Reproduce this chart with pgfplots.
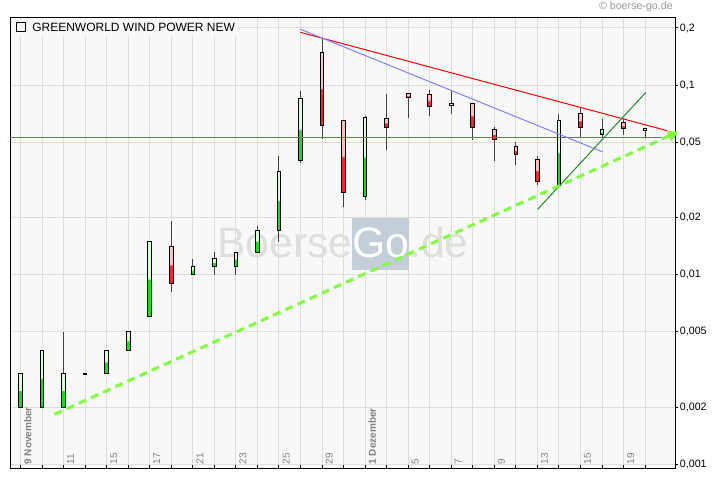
\documentclass[border=0pt]{standalone}
\usepackage{fontspec}
\setmainfont{Liberation Sans}
\usepackage{pgfplots}
\pgfplotsset{compat=1.18}
\usetikzlibrary{arrows.meta}
\definecolor{bgc}{RGB}{248,248,248}
\definecolor{gridc}{RGB}{221,221,221}
\definecolor{wick}{RGB}{64,64,64}
\definecolor{hline}{RGB}{100,100,230}
\definecolor{tblue}{RGB}{128,128,255}
\definecolor{tgreen}{RGB}{34,140,34}
\definecolor{dgreen}{RGB}{128,255,64}
\definecolor{wm}{RGB}{222,222,222}
\definecolor{gobox}{RGB}{196,206,216}
\pgfdeclareverticalshading{upshade}{100bp}{rgb(0bp)=(0.08,0.88,0.08); rgb(49.9bp)=(0.08,0.88,0.08); rgb(50.1bp)=(0.84,1,0.84); rgb(100bp)=(0.84,1,0.84)}
\pgfdeclareverticalshading{dnshade}{100bp}{rgb(0bp)=(0.94,0.16,0.16); rgb(49.9bp)=(0.94,0.16,0.16); rgb(50.1bp)=(1,0.75,0.75); rgb(100bp)=(1,0.75,0.75)}
\pgfplotsset{
  candleup/.style={draw=black, line width=0.75pt, shade, shading=upshade},
  candledn/.style={draw=black, line width=0.75pt, shade, shading=dnshade},
}
% position, low, body low, body high, high, up/dn
\newcommand\candle[6]{%
  \pgfmathsetmacro\xa{#1-0.085}\pgfmathsetmacro\xb{#1+0.085}%
  \addplot[draw=wick, line width=0.75pt] coordinates {(#1,#2) (#1,#3)};
  \addplot[draw=wick, line width=0.75pt] coordinates {(#1,#4) (#1,#5)};
  \addplot[candle#6] coordinates {(\xa,#3) (\xb,#3) (\xb,#4) (\xa,#4)} -- cycle;
}
\begin{document}
\begin{tikzpicture}
\path[use as bounding box] (-7.5pt,-9.75pt) rectangle (532.5pt,351pt);
\begin{axis}[
  at={(0,0)}, anchor=south west,
  scale only axis, width=498.75pt, height=337.5pt,
  xmin=-0.49, xmax=30.39,
  ymode=log, ymin=0.000956, ymax=0.2258,
  axis background/.style={fill=bgc},
  axis line style={line width=0.75pt},
  grid=major, grid style={draw=gridc, line width=0.75pt},
  xtick={0,...,29},
  xticklabels={\textbf{9 November},,11,,15,,17,,21,,23,,25,,29,,\textbf{1 Dezember},,5,,7,,9,,13,,15,,19,},
  xtick pos=lower, xtick align=inside,
  ytick pos=upper, ytick align=outside,
  major tick length=2.5pt,
  yminorticks=false,
  tick style={black, line width=0.75pt},
  ytick={0.001,0.002,0.005,0.01,0.02,0.05,0.1,0.2},
  yticklabels={{0,001},{0,002},{0,005},{0,01},{0,02},{0,05},{0,1},{0,2}},
  yticklabel style={font=\fontsize{8}{9}\selectfont, anchor=west, inner sep=1pt},
  xticklabel style={font=\fontsize{7.5}{8}\selectfont, text=black!50, rotate=90, anchor=north west, inner sep=2.5pt},
  clip=false,
]
\node[anchor=base west, inner sep=0, font=\fontsize{32}{32}\selectfont] at (rel axis cs:0.3113,0.4667)
  {\textcolor{wm}{Boerse}{\setlength{\fboxsep}{0pt}\colorbox{gobox}{\rule[-9pt]{0pt}{39pt}\textcolor{white}{Go}}}\textcolor{wm}{.de}};
\candle{0}{0.002}{0.002}{0.003}{0.003}{up}
\candle{1}{0.002}{0.002}{0.004}{0.004}{up}
\candle{2}{0.002}{0.002}{0.003}{0.005}{up}
\candle{3}{0.00299}{0.00299}{0.00301}{0.00301}{up}
\candle{4}{0.003}{0.003}{0.004}{0.004}{up}
\candle{5}{0.004}{0.004}{0.005}{0.005}{up}
\candle{6}{0.006}{0.006}{0.015}{0.015}{up}
\candle{7}{0.0081}{0.009}{0.0141}{0.0192}{dn}
\candle{8}{0.010}{0.010}{0.0111}{0.0121}{up}
\candle{9}{0.010}{0.0111}{0.0121}{0.0131}{up}
\candle{10}{0.010}{0.0111}{0.0131}{0.0131}{up}
\candle{11}{0.0131}{0.0131}{0.0172}{0.0181}{up}
\candle{12}{0.0149}{0.0172}{0.0351}{0.0423}{up}
\candle{13}{0.0389}{0.0399}{0.0852}{0.0931}{up}
\candle{14}{0.0518}{0.0611}{0.149}{0.1766}{dn}
\candle{15}{0.0228}{0.0271}{0.0652}{0.0652}{dn}
\candle{16}{0.0248}{0.0258}{0.0673}{0.0688}{up}
\candle{17}{0.0455}{0.0596}{0.0668}{0.0898}{dn}
\candle{18}{0.0673}{0.0859}{0.0898}{0.0898}{dn}
\candle{19}{0.0687}{0.0769}{0.0896}{0.0942}{dn}
\candle{20}{0.0704}{0.0780}{0.0796}{0.0936}{dn}
\candle{21}{0.0513}{0.0596}{0.0795}{0.0795}{dn}
\candle{22}{0.0399}{0.0518}{0.058}{0.0603}{dn}
\candle{23}{0.038}{0.043}{0.0472}{0.0503}{dn}
\candle{24}{0.0298}{0.0311}{0.0403}{0.0421}{dn}
\candle{25}{0.0297}{0.0297}{0.0652}{0.0704}{up}
\candle{26}{0.0531}{0.0596}{0.0704}{0.0764}{dn}
\candle{27}{0.0531}{0.055}{0.058}{0.066}{up}
\candle{28}{0.0547}{0.0589}{0.0631}{0.066}{dn}
\candle{29}{0.0531}{0.0576}{0.0592}{0.0592}{up}
\addplot[draw=hline, line width=0.75pt] coordinates {(-0.49,0.053) (30.39,0.053)};
\addplot[draw=red, line width=0.75pt] coordinates {(13,0.1897) (30.02,0.0575)};
\addplot[draw=tblue, line width=0.75pt] coordinates {(13,0.197) (27.03,0.0444)};
\addplot[draw=tgreen, line width=0.75pt] coordinates {(24.01,0.0221) (29.04,0.0916)};
\addplot[draw=dgreen, line width=2.25pt, dash pattern=on 6pt off 4pt, -{Triangle[length=8pt,width=8.5pt,line width=0.5pt]}] coordinates {(1.58,0.001835) (30.55,0.0568)};
\node[anchor=north west, fill=bgc, inner xsep=3.5pt, inner ysep=2.5pt, font=\fontsize{9}{10}\selectfont, xshift=0.5pt, yshift=-0.5pt] at (rel axis cs:0,1)
  {{\setlength{\fboxrule}{0.75pt}\setlength{\fboxsep}{0pt}\fbox{\rule{0pt}{6pt}\rule{6pt}{0pt}}}\hspace{5pt}GREENWORLD WIND POWER NEW};
\end{axis}
\node[anchor=base east, inner sep=0, font=\fontsize{8}{9}\selectfont, text=black!40] at (497.25pt,343.5pt) {© boerse-go.de};
\end{tikzpicture}
\end{document}
